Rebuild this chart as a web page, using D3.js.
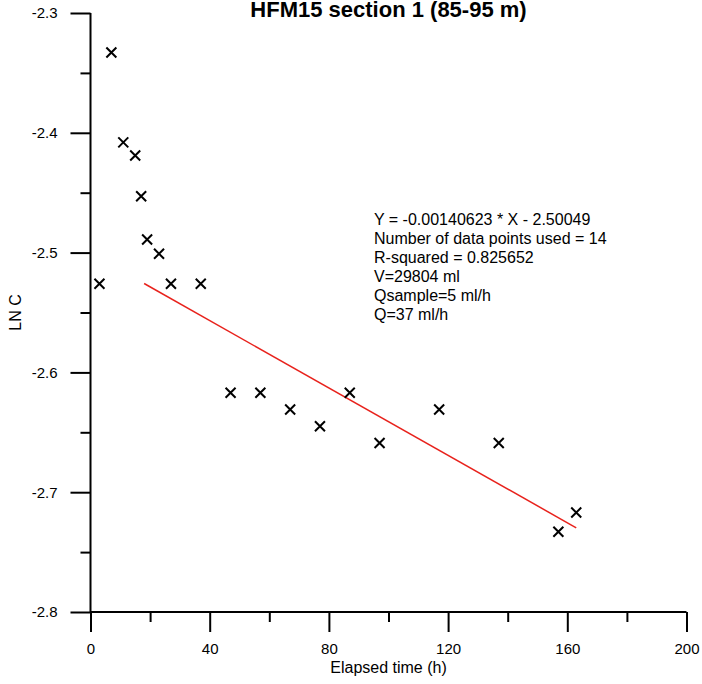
<!DOCTYPE html>
<html>
<head>
<meta charset="utf-8">
<script src="https://cdn.jsdelivr.net/npm/d3@7"></script>
<style>
  html, body { margin: 0; padding: 0; background: #fff; }
  svg { display: block; font-family: "Liberation Sans", Arial, sans-serif; }
</style>
</head>
<body>
<svg id="chart" width="702" height="684"></svg>
<script>
// ---- data ----
const elapsedTime = [3, 7, 11, 15, 17, 19, 23, 27, 37, 47, 57, 67, 77, 87, 97, 117, 137, 157, 163];
const lnC = [-2.526, -2.333, -2.408, -2.419, -2.453, -2.489, -2.501, -2.526, -2.526, -2.617, -2.617, -2.631, -2.645, -2.617, -2.659, -2.631, -2.659, -2.733, -2.717];
const fitSlope = -0.00140623;
const fitIntercept = -2.50049;
const fitRange = [18, 163];
const xMajorTicks = [0, 40, 80, 120, 160, 200];
const xMinorTicks = [20, 60, 100, 140, 180];
const yMajorTicks = [-2.3, -2.4, -2.5, -2.6, -2.7, -2.8];
const yMinorTicks = [-2.35, -2.45, -2.55, -2.65, -2.75];
const annotationLines = [
  "Y = -0.00140623 * X - 2.50049",
  "Number of data points used = 14",
  "R-squared = 0.825652",
  "V=29804 ml",
  "Qsample=5 ml/h",
  "Q=37 ml/h"
];
const titleText = "HFM15 section 1 (85-95 m)";
const xTitle = "Elapsed time (h)";
const yTitle = "LN C";

// ---- layout ----
const svg = d3.select("#chart");
const mLeft = 90.5, mRight = 686.5, mTop = 13, mBottom = 612;
const x = d3.scaleLinear().domain([0, 200]).range([mLeft, mRight]);
const y = d3.scaleLinear().domain([-2.8, -2.3]).range([mBottom, mTop]);

function styleAxis(g) {
  g.select(".domain").remove();
  g.selectAll(".tick line").attr("stroke", "#000").attr("stroke-width", 2);
  g.selectAll(".tick text").attr("fill", "#000").style("font-size", "15px")
    .style("font-family", "'Liberation Sans', Arial, sans-serif");
}

// x axis minor/major
svg.append("g").attr("transform", `translate(0,${mBottom})`)
  .call(d3.axisBottom(x).tickValues(xMinorTicks).tickSize(10).tickFormat(""))
  .call(styleAxis);
svg.append("g").attr("transform", `translate(0,${mBottom})`)
  .call(d3.axisBottom(x).tickValues(xMajorTicks).tickSize(20).tickPadding(11).tickFormat(d => String(d)))
  .call(styleAxis);
// y axis minor/major
svg.append("g").attr("transform", `translate(${mLeft},0)`)
  .call(d3.axisLeft(y).tickValues(yMinorTicks).tickSize(10).tickFormat(""))
  .call(styleAxis);
svg.append("g").attr("transform", `translate(${mLeft},0)`)
  .call(d3.axisLeft(y).tickValues(yMajorTicks).tickSize(20).tickPadding(13).tickFormat(d => d.toFixed(1)))
  .call(styleAxis);

// axis lines
svg.append("line").attr("x1", mLeft).attr("x2", mLeft).attr("y1", mTop).attr("y2", mBottom)
  .attr("stroke", "#000").attr("stroke-width", 2);
svg.append("line").attr("x1", mLeft).attr("x2", mRight).attr("y1", mBottom).attr("y2", mBottom)
  .attr("stroke", "#000").attr("stroke-width", 2);

// fit line
svg.append("line")
  .attr("x1", x(fitRange[0])).attr("y1", y(fitSlope * fitRange[0] + fitIntercept))
  .attr("x2", x(fitRange[1])).attr("y2", y(fitSlope * fitRange[1] + fitIntercept))
  .attr("stroke", "#e8221c").attr("stroke-width", 1.5);

// markers
const s = 5;
svg.append("g").selectAll("path").data(elapsedTime.map((t, i) => [t, lnC[i]])).join("path")
  .attr("d", d => {
    const cx = x(d[0]), cy = y(d[1]);
    return `M${cx - s},${cy - s}L${cx + s},${cy + s}M${cx - s},${cy + s}L${cx + s},${cy - s}`;
  })
  .attr("stroke", "#000").attr("stroke-width", 2).attr("fill", "none");

// title
svg.append("text").attr("x", (mLeft + mRight) / 2).attr("y", 17).attr("text-anchor", "middle")
  .style("font-size", "22px").style("font-weight", "bold").text(titleText);
// axis titles
svg.append("text").attr("x", (mLeft + mRight) / 2).attr("y", 673).attr("text-anchor", "middle")
  .style("font-size", "16px").text(xTitle);
svg.append("text").attr("transform", `translate(21,${(mTop + mBottom) / 2}) rotate(-90)`)
  .attr("text-anchor", "middle").style("font-size", "16px").text(yTitle);

// annotation
const ann = svg.append("text").style("font-size", "16px");
annotationLines.forEach((t, i) => {
  ann.append("tspan").attr("x", 374).attr("y", 225 + i * 19).text(t);
});
</script>
</body>
</html>
